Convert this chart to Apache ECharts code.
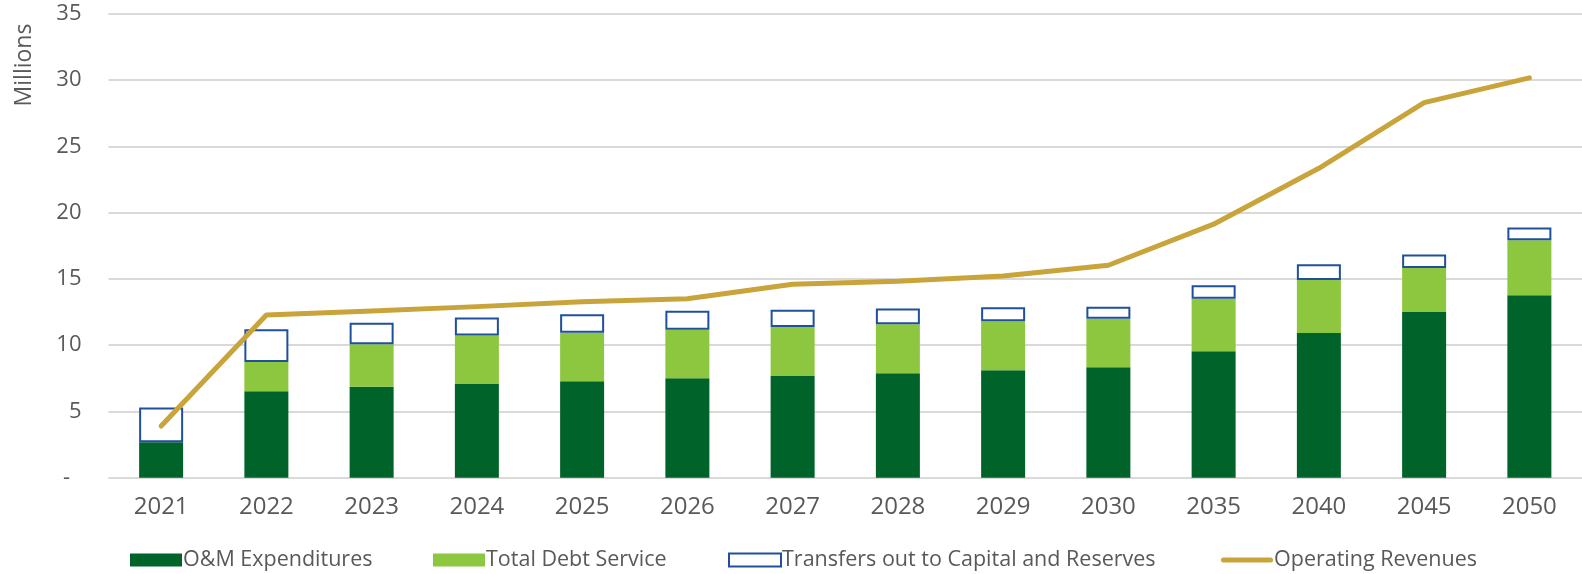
<!DOCTYPE html>
<html>
<head>
<meta charset="utf-8">
<script src="https://cdn.jsdelivr.net/npm/echarts@6/dist/echarts.min.js"></script>
<style>
  html, body { margin: 0; padding: 0; background: #ffffff; }
  #chart { width: 1582px; height: 574px; }
</style>
</head>
<body>
<div id="chart"></div>
<script>
// Fiscal years shown on the category axis
const years = ['2021', '2022', '2023', '2024', '2025', '2026', '2027', '2028', '2029', '2030', '2035', '2040', '2045', '2050'];

// Amounts in millions of dollars
const omExpenditures   = [2.67, 6.52, 6.87, 7.07, 7.27, 7.50, 7.67, 7.88, 8.10, 8.33, 9.54, 10.92, 12.50, 13.76];
const totalDebtService = [0.00, 2.21, 3.20, 3.67, 3.67, 3.67, 3.70, 3.70, 3.70, 3.67, 3.97, 4.00, 3.33, 4.15];
const transfersOut     = [2.62, 2.47, 1.62, 1.35, 1.40, 1.42, 1.30, 1.19, 1.07, 0.90, 1.02, 1.19, 1.01, 0.97];
const operatingRevenues = [3.90, 12.28, 12.58, 12.91, 13.28, 13.51, 14.60, 14.82, 15.22, 16.03, 19.13, 23.35, 28.30, 30.17];

// Value-axis ticks
const yTicks = [0, 5, 10, 15, 20, 25, 30, 35];

const textColor = '#595959';
const fontFamily = '"Open Sans", "Liberation Sans", sans-serif';
const colors = {
  om: '#006329',
  debt: '#8dc63f',
  transferBorder: '#1f509e',
  revenue: '#c9a43a'
};

// One legend block per entry so each sits at its own left offset
function legendBlock(name, left, extra) {
  return Object.assign({
    left: left,
    top: 544,
    itemWidth: 52,
    itemHeight: 13,
    selectedMode: false,
    textStyle: { fontSize: 21.5, color: textColor, fontFamily: fontFamily, padding: [0, 0, 0, -4] },
    data: [{ name: name, icon: 'rect' }]
  }, extra || {});
}

const chart = echarts.init(document.getElementById('chart'), null, { renderer: 'canvas' });

chart.setOption({
  animation: false,
  backgroundColor: '#ffffff',
  textStyle: { fontFamily: fontFamily, color: textColor },
  grid: { left: 108.5, top: 13.9, width: 1484, height: 463.8, containLabel: false },
  graphic: [{
    type: 'text',
    x: 24,
    y: 65,
    rotation: Math.PI / 2,
    style: {
      text: 'Millions',
      fill: textColor,
      font: '23px ' + fontFamily,
      textAlign: 'center',
      textVerticalAlign: 'middle'
    }
  }],
  legend: [
    legendBlock('O&M Expenditures', 125),
    legendBlock('Total Debt Service', 428),
    legendBlock('Transfers out to Capital and Reserves', 723),
    legendBlock('Operating Revenues', 1216, {
      data: [{
        name: 'Operating Revenues',
        icon: 'path://M2.5,4 L49.5,4 A2.5,2.5 0 0 1 49.5,9 L2.5,9 A2.5,2.5 0 0 1 2.5,4 Z M0,0 L0,0.01 M52,13 L52,12.99',
        itemStyle: { color: colors.revenue, borderWidth: 0 }
      }]
    })
  ],
  xAxis: {
    type: 'category',
    data: years,
    axisLine: { show: false },
    axisTick: { show: false },
    axisLabel: { fontSize: 24, color: textColor, margin: 17, interval: 0 }
  },
  yAxis: {
    type: 'value',
    min: yTicks[0],
    max: yTicks[yTicks.length - 1],
    interval: 5,
    axisLine: { show: false },
    axisTick: { show: false },
    splitLine: { lineStyle: { color: '#d9d9d9', width: 2 } },
    axisLabel: {
      fontSize: 22,
      color: textColor,
      margin: 27,
      formatter: function (v) { return v === 0 ? '-  ' : String(v); }
    }
  },
  series: [
    {
      name: 'O&M Expenditures',
      type: 'bar',
      stack: 'spend',
      barWidth: 44,
      data: omExpenditures,
      itemStyle: { color: colors.om }
    },
    {
      name: 'Total Debt Service',
      type: 'bar',
      stack: 'spend',
      barWidth: 44,
      data: totalDebtService,
      itemStyle: { color: colors.debt }
    },
    {
      name: 'Transfers out to Capital and Reserves',
      type: 'bar',
      stack: 'spend',
      barWidth: 44,
      data: transfersOut,
      itemStyle: { color: '#ffffff', borderColor: colors.transferBorder, borderWidth: 2 }
    },
    {
      name: 'Operating Revenues',
      type: 'line',
      data: operatingRevenues,
      symbol: 'none',
      z: 5,
      lineStyle: { color: colors.revenue, width: 5, cap: 'round', join: 'round' },
      itemStyle: { color: colors.revenue }
    }
  ]
});
</script>
</body>
</html>
